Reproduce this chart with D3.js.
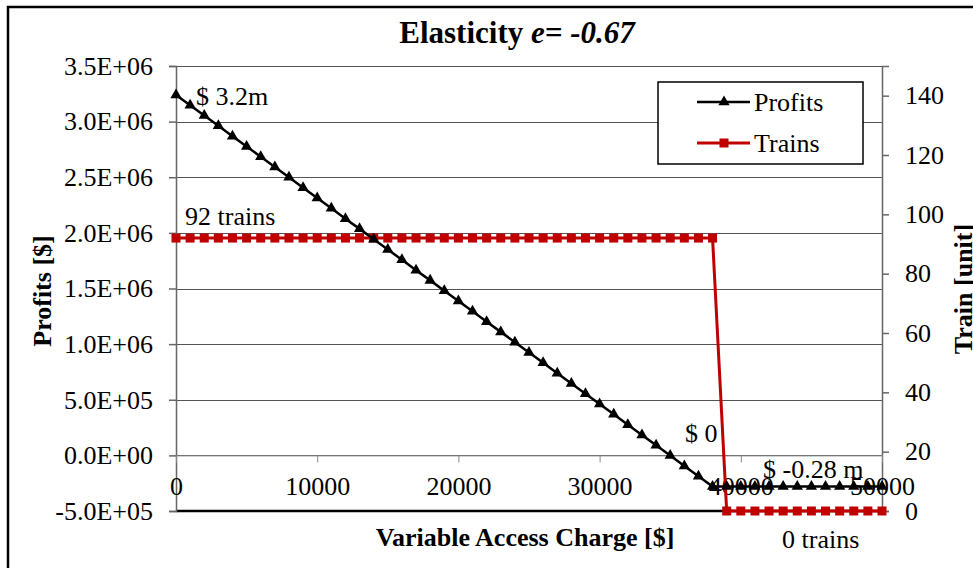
<!DOCTYPE html>
<html><head><meta charset="utf-8">
<script src="https://cdn.jsdelivr.net/npm/d3@7"></script>
<style>body{margin:0;background:#fff}svg{display:block}text{font-family:"Liberation Serif","Times New Roman",serif}</style>
</head><body><svg id="c" width="973" height="568"></svg>
<script>
const charges = [0,1000,2000,3000,4000,5000,6000,7000,8000,9000,10000,11000,12000,13000,14000,15000,16000,17000,18000,19000,20000,21000,22000,23000,24000,25000,26000,27000,28000,29000,30000,31000,32000,33000,34000,35000,36000,37000,38000,39000,40000,41000,42000,43000,44000,45000,46000,47000,48000,49000,50000];
const profits = [3240000,3147000,3055000,2962000,2869000,2777000,2684000,2592000,2499000,2406000,2314000,2221000,2128000,2036000,1943000,1851000,1758000,1665000,1573000,1480000,1387000,1295000,1202000,1110000,1017000,924000,832000,739000,646000,554000,461000,369000,276000,183000,91000,-2000,-95000,-187000,-280000,-280000,-280000,-280000,-280000,-280000,-280000,-280000,-280000,-280000,-280000,-280000,-280000];
const trains = [92,92,92,92,92,92,92,92,92,92,92,92,92,92,92,92,92,92,92,92,92,92,92,92,92,92,92,92,92,92,92,92,92,92,92,92,92,92,92,0,0,0,0,0,0,0,0,0,0,0,0];
const leftTicks = [-500000,0,500000,1000000,1500000,2000000,2500000,3000000,3500000];
const leftTickLabels = ["-5.0E+05","0.0E+00","5.0E+05","1.0E+06","1.5E+06","2.0E+06","2.5E+06","3.0E+06","3.5E+06"];
const rightTicks = [0,20,40,60,80,100,120,140];
const xTicks = [0,10000,20000,30000,40000,50000];
const seriesNames = ["Profits","Trains"];

const svg = d3.select("#c");
const L=176,R=882,T=66,B=511;
const x = d3.scaleLinear().domain([0,50000]).range([L,R]);
const y = d3.scaleLinear().domain([-500000,3500000]).range([B,T]);
const y2 = d3.scaleLinear().domain([0,150]).range([B,T]);
const FS=26;

// outer border
svg.append("rect").attr("x",8).attr("y",7).attr("width",1100).attr("height",1100).attr("fill","none").attr("stroke","#000").attr("stroke-width",2.5);

// gridlines
svg.append("g").selectAll("line").data(leftTicks.slice(1)).join("line")
  .attr("x1",L).attr("x2",R).attr("y1",d=>Math.round(y(d))+0.5).attr("y2",d=>Math.round(y(d))+0.5)
  .attr("stroke","#555").attr("stroke-width",1);
// bottom border
svg.append("line").attr("x1",L).attr("x2",R).attr("y1",B).attr("y2",B).attr("stroke","#000").attr("stroke-width",2.5);

// left axis
const gl = svg.append("g").attr("transform",`translate(${L},0)`)
  .call(d3.axisLeft(y).tickValues(leftTicks).tickFormat((d,i)=>leftTickLabels[i]).tickSize(7).tickPadding(16));
gl.attr("font-family","Liberation Serif");
gl.select(".domain").attr("stroke","#666").attr("stroke-width",1.5);
gl.selectAll(".tick line").attr("stroke","#666").attr("stroke-width",1.5);
gl.selectAll("text").attr("font-size",FS).attr("fill","#000");

// right axis
const gr = svg.append("g").attr("transform",`translate(${R},0)`)
  .call(d3.axisRight(y2).tickValues(rightTicks).tickSize(7).tickPadding(16));
gr.attr("font-family","Liberation Serif");
gr.select(".domain").attr("stroke","#666").attr("stroke-width",1.5);
gr.selectAll(".tick line").attr("stroke","#666").attr("stroke-width",1.5);
gr.selectAll("text").attr("font-size",FS).attr("fill","#000");

// x axis at profit 0
const gx = svg.append("g").attr("transform",`translate(0,${y(0)})`)
  .call(d3.axisBottom(x).tickValues(xTicks).tickFormat(d3.format("d")).tickSize(7).tickPadding(14));
gx.attr("font-family","Liberation Serif");
gx.select(".domain").attr("stroke","#888").attr("stroke-width",1);
gx.selectAll(".tick line").attr("stroke","#888").attr("stroke-width",1);
gx.selectAll("text").attr("font-size",FS).attr("fill","#000");

// Trains series
const red="#C00000";
svg.append("path").datum(charges.map((c,i)=>[c,trains[i]]))
  .attr("d",d3.line().x(d=>x(d[0])).y(d=>y2(d[1])))
  .attr("fill","none").attr("stroke",red).attr("stroke-width",3);
svg.append("g").selectAll("rect").data(charges.map((c,i)=>[c,trains[i]])).join("rect")
  .attr("x",d=>x(d[0])-4.5).attr("y",d=>y2(d[1])-4.5).attr("width",9).attr("height",9).attr("fill",red);

// Profits series
svg.append("path").datum(charges.map((c,i)=>[c,profits[i]]))
  .attr("d",d3.line().x(d=>x(d[0])).y(d=>y(d[1])))
  .attr("fill","none").attr("stroke","#000").attr("stroke-width",2.5);
const tri = d3.symbol().type(d3.symbolTriangle).size(55);
svg.append("g").selectAll("path").data(charges.map((c,i)=>[c,profits[i]])).join("path")
  .attr("d",tri).attr("transform",d=>`translate(${x(d[0])},${y(d[1])})`).attr("fill","#000");

// annotations
const ann = [["$ 3.2m",196,105],["92 trains",185,225],["$ 0",685,442],["$ -0.28 m",763,478],["0 trains",782,548]];
svg.append("g").selectAll("text").data(ann).join("text")
  .attr("x",d=>d[1]).attr("y",d=>d[2]).text(d=>d[0]).attr("font-size",FS).attr("fill","#000");

// title
const t = svg.append("text").attr("x",517).attr("y",43).attr("text-anchor","middle").attr("font-size",31).attr("font-weight","bold");
t.append("tspan").text("Elasticity ");
t.append("tspan").attr("font-style","italic").text("e= -0.67");

// axis titles
svg.append("text").attr("transform","translate(51,291) rotate(-90)").attr("text-anchor","middle").attr("font-size",FS).attr("font-weight","bold").text("Profits [$]");
svg.append("text").attr("transform","translate(972,289) rotate(-90)").attr("text-anchor","middle").attr("font-size",FS).attr("font-weight","bold").text("Train [unit]");
svg.append("text").attr("x",525).attr("y",546).attr("text-anchor","middle").attr("font-size",FS).attr("font-weight","bold").text("Variable Access Charge [$]");

// legend
const lg = svg.append("g");
lg.append("rect").attr("x",658).attr("y",82).attr("width",205).attr("height",82).attr("fill","#fff").attr("stroke","#000").attr("stroke-width",1.5);
const rows=[{n:seriesNames[0],c:"#000",y:102,m:"tri"},{n:seriesNames[1],c:red,y:143,m:"sq"}];
rows.forEach(r=>{
  lg.append("line").attr("x1",697).attr("x2",750).attr("y1",r.y).attr("y2",r.y).attr("stroke",r.c).attr("stroke-width",r.m==="sq"?3:2.5);
  if(r.m==="tri") lg.append("path").attr("d",tri).attr("transform",`translate(724,${r.y})`).attr("fill",r.c);
  else lg.append("rect").attr("x",719.5).attr("y",r.y-4.5).attr("width",9).attr("height",9).attr("fill",r.c);
  lg.append("text").attr("x",754).attr("y",r.y+9).attr("font-size",FS).text(r.n);
});
</script></body></html>
